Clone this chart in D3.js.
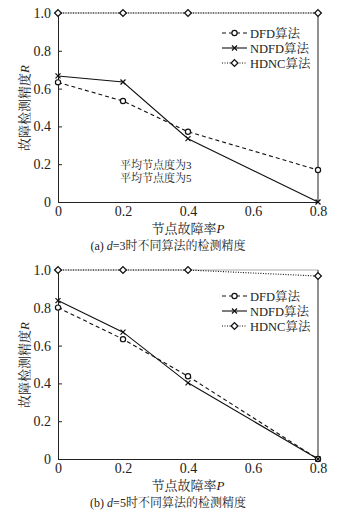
<!DOCTYPE html>
<html>
<head>
<meta charset="utf-8">
<script src="https://cdn.jsdelivr.net/npm/d3@7"></script>
<style>
  body { margin: 0; background: #fff; }
  svg text { font-family: "Liberation Serif", "Noto Serif CJK SC", serif !important; fill: #222; }
</style>
</head>
<body>
<svg id="chart" width="340" height="518"></svg>
<script>
// failure rate P on the x axis
const failureRates = [0, 0.2, 0.4, 0.8];
const xTicks = [0, 0.2, 0.4, 0.6, 0.8];
const yTicks = [0, 0.2, 0.4, 0.6, 0.8, 1.0];

// (a) d=3
const dfdD3 = [0.633, 0.534, 0.372, 0.169];
const ndfdD3 = [0.667, 0.635, 0.335, 0];
const hdncD3 = [1, 1, 1, 1];

// (b) d=5
const dfdD5 = [0.801, 0.634, 0.438, 0];
const ndfdD5 = [0.838, 0.671, 0.403, 0];
const hdncD5 = [1, 1, 1, 0.968];

const seriesNames = ['DFD算法', 'NDFD算法', 'HDNC算法'];
const notes = ['平均节点度为3', '平均节点度为5'];

const svg = d3.select('#chart');
const left = 58, right = 318, plotH = 189;

const x = d3.scaleLinear().domain([0, 0.8]).range([left, right]);

const styles = [
  { dash: '4,3', marker: 'circle' },
  { dash: null, marker: 'cross' },
  { dash: '1,1.5', marker: 'diamond' }
];

function drawMarker(g, type, cx, cy) {
  if (type === 'circle') {
    g.append('circle').attr('cx', cx).attr('cy', cy).attr('r', 2.6)
      .attr('fill', '#fff').attr('stroke', '#111').attr('stroke-width', 1.2);
  } else if (type === 'cross') {
    g.append('path').attr('d', `M${cx-2.5},${cy-2.5}L${cx+2.5},${cy+2.5}M${cx-2.5},${cy+2.5}L${cx+2.5},${cy-2.5}`)
      .attr('stroke', '#111').attr('stroke-width', 1.2);
  } else {
    g.append('path').attr('d', `M${cx},${cy-3.4}L${cx+3.4},${cy}L${cx},${cy+3.4}L${cx-3.4},${cy}Z`)
      .attr('fill', '#fff').attr('stroke', '#111').attr('stroke-width', 1.3);
  }
}

function panel(top, data, caption, legendTop, showNotes) {
  const y = d3.scaleLinear().domain([0, 1]).range([top + plotH, top]);
  const g = svg.append('g');

  // frame
  g.append('line').attr('x1', left).attr('x2', right).attr('y1', top).attr('y2', top)
    .attr('stroke', '#aaa').attr('stroke-width', 1);
  g.append('line').attr('x1', right).attr('x2', right).attr('y1', top).attr('y2', top + plotH)
    .attr('stroke', '#222').attr('stroke-width', 1);

  const yAxis = g.append('g').attr('transform', `translate(${left},0)`)
    .call(d3.axisLeft(y).tickValues(yTicks).tickSize(-4).tickPadding(7)
      .tickFormat(d => d === 0 ? '0' : d3.format('.1f')(d)));
  yAxis.select('.domain').attr('stroke', '#222');
  yAxis.selectAll('.tick line').attr('stroke', '#222');
  yAxis.selectAll('text').attr('font-size', 14);

  const xAxis = g.append('g').attr('transform', `translate(0,${top + plotH})`)
    .call(d3.axisBottom(x).tickValues(xTicks).tickSize(0).tickPadding(4)
      .tickFormat(d => d === 0 ? '0' : d3.format('.1f')(d)));
  xAxis.select('.domain').attr('stroke', '#222');
  xAxis.selectAll('text').attr('font-size', 14);

  const line = d3.line().x((d, i) => x(failureRates[i])).y(d => y(d));
  data.forEach((vals, k) => {
    g.append('path').datum(vals).attr('d', line).attr('fill', 'none')
      .attr('stroke', '#111').attr('stroke-width', 1.1)
      .attr('stroke-dasharray', styles[k].dash);
  });
  data.forEach((vals, k) => {
    vals.forEach((v, i) => drawMarker(g, styles[k].marker, x(failureRates[i]), y(v)));
  });

  // legend
  seriesNames.forEach((name, k) => {
    const ly = legendTop + k * 15;
    g.append('line').attr('x1', 222).attr('x2', 247).attr('y1', ly).attr('y2', ly)
      .attr('stroke', '#111').attr('stroke-width', 1.1)
      .attr('stroke-dasharray', styles[k].dash);
    drawMarker(g, styles[k].marker, 234.5, ly);
    g.append('text').attr('x', 250).attr('y', ly + 4.5).attr('font-size', 12.5).text(name);
  });

  if (showNotes) {
    notes.forEach((t, i) => {
      g.append('text').attr('x', 120).attr('y', top + 156 + i * 12.5)
        .attr('font-size', 11).text(t);
    });
  }

  // axis titles
  const yt = g.append('text').attr('transform', `translate(29,${top + 95}) rotate(-90)`)
    .attr('text-anchor', 'middle').attr('font-size', 13);
  yt.append('tspan').text('故障检测精度');
  yt.append('tspan').attr('font-style', 'italic').text('R');

  const xt = g.append('text').attr('x', 188).attr('y', top + plotH + 31)
    .attr('text-anchor', 'middle').attr('font-size', 13);
  xt.append('tspan').text('节点故障率');
  xt.append('tspan').attr('font-style', 'italic').text('P');

  const cap = g.append('text').attr('x', 168).attr('y', top + plotH + 48)
    .attr('text-anchor', 'middle').attr('font-size', 12);
  cap.append('tspan').text(caption[0]);
  cap.append('tspan').attr('font-style', 'italic').text('d');
  cap.append('tspan').text(caption[1]);
}

panel(13, [dfdD3, ndfdD3, hdncD3], ['(a) ', '=3时不同算法的检测精度'], 33, true);
panel(270, [dfdD5, ndfdD5, hdncD5], ['(b) ', '=5时不同算法的检测精度'], 296, false);
</script>
</body>
</html>
